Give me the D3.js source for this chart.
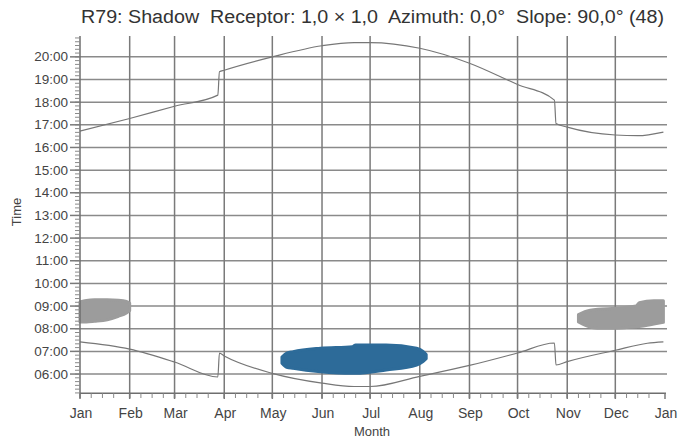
<!DOCTYPE html>
<html>
<head>
<meta charset="utf-8">
<script src="https://cdn.jsdelivr.net/npm/d3@7"></script>
<style>
  body { margin: 0; background: #fff; }
  svg text { font-family: "Liberation Sans", Arial, sans-serif; fill: #444; }
</style>
</head>
<body>
<svg id="chart"></svg>
<script>
const width = 678, height = 444

// month ticks
const monthLabels = ["Jan", "Feb", "Mar", "Apr", "May", "Jun", "Jul", "Aug", "Sep", "Oct", "Nov", "Dec", "Jan"]
const hourTicks = [6, 7, 8, 9, 10, 11, 12, 13, 14, 15, 16, 17, 18, 19, 20]

// sunset (upper line), hours
const sunsetDays = ["01-01", "02-01", "03-01", "03-28", "03-29", "04-01", "05-01", "06-01", "06-21", "07-01", "08-01", "09-01", "10-01", "10-24", "10-25", "11-01", "12-01", "12-15", "12-31"]
const sunsetHours = [16.72, 17.28, 17.82, 18.31, 19.34, 19.41, 20.0, 20.49, 20.63, 20.63, 20.38, 19.72, 18.78, 18.09, 17.06, 16.9, 16.55, 16.52, 16.68]

// sunrise (lower line), hours
const sunriseDays = ["01-01", "02-01", "03-01", "03-28", "03-29", "04-01", "05-01", "06-01", "06-21", "07-01", "08-01", "09-01", "10-01", "10-24", "10-25", "11-01", "12-01", "12-21", "12-31"]
const sunriseHours = [7.42, 7.1, 6.53, 5.87, 6.92, 6.8, 6.03, 5.6, 5.45, 5.45, 5.9, 6.38, 6.93, 7.37, 6.4, 6.55, 7.05, 7.36, 7.42]

// shadow periods: day, from-hour, to-hour
const shadeJanDays = ["01-01", "01-05", "01-10", "01-18", "01-25", "01-30", "02-01"]
const shadeJanFrom = [8.30, 8.30, 8.33, 8.40, 8.55, 8.70, 8.80]
const shadeJanTo   = [9.18, 9.25, 9.28, 9.28, 9.26, 9.20, 9.12]

const shadeSummerDays = ["05-07", "05-10", "05-14", "05-31", "06-20", "06-22", "07-11", "07-30", "08-03", "08-05"]
const shadeSummerFrom = [6.48, 6.30, 6.25, 6.10, 6.03, 6.03, 6.18, 6.40, 6.55, 6.68]
const shadeSummerTo   = [6.75, 6.92, 6.99, 7.14, 7.21, 7.28, 7.28, 7.14, 7.00, 6.86]

const shadeWinterDays = ["11-08", "11-12", "11-20", "12-01", "12-14", "12-16", "12-25", "12-31"]
const shadeWinterFrom = [8.30, 8.16, 8.02, 8.02, 8.09, 8.10, 8.21, 8.28]
const shadeWinterTo   = [8.62, 8.75, 8.86, 8.90, 9.00, 9.15, 9.24, 9.24]

const year = 2023
const parseDay = d => d3.timeParse("%Y-%m-%d")(year + "-" + d)

const svg = d3.select("#chart")
    .attr("width", width)
    .attr("height", height)

const x = d3.scaleTime()
    .domain([new Date(year, 0, 1), new Date(year + 1, 0, 1)])
    .range([80, 665])

const y = d3.scaleLinear()
    .domain([5.15, 20.92])
    .range([393.3, 36])

const months = d3.timeMonth.range(new Date(year, 0, 1), new Date(year + 1, 0, 2))

// horizontal grid
svg.append("g")
    .selectAll("line")
    .data(hourTicks)
    .enter()
    .append("line")
    .attr("x1", 80).attr("x2", 667)
    .attr("y1", d => y(d)).attr("y2", d => y(d))
    .style("stroke", "#8a8a8a")
    .style("stroke-width", 1.5)

// vertical grid
svg.append("g")
    .selectAll("line")
    .data(months.slice(1, 12))
    .enter()
    .append("line")
    .attr("x1", d => x(d)).attr("x2", d => x(d))
    .attr("y1", y(20.92)).attr("y2", 398)
    .style("stroke", "#7a7a7a")
    .style("stroke-width", 1.5)

// shadow areas
const drawShade = (days, from, to, color) => {
    const pts = days.map((d, i) => ({ t: parseDay(d), a: from[i], b: to[i] }))
    const area = d3.area()
        .x(d => x(d.t))
        .y0(d => y(d.a))
        .y1(d => y(d.b))
        .curve(d3.curveMonotoneX)
    svg.append("path")
        .datum(pts)
        .attr("d", area)
        .style("fill", color)
        .style("stroke", color)
        .style("stroke-width", 3)
        .style("stroke-linejoin", "round")
}
drawShade(shadeJanDays, shadeJanFrom, shadeJanTo, "#9c9c9c")
drawShade(shadeWinterDays, shadeWinterFrom, shadeWinterTo, "#9c9c9c")
drawShade(shadeSummerDays, shadeSummerFrom, shadeSummerTo, "#2d6b99")

// sun lines
const drawSun = (days, hours) => {
    const pts = days.map((d, i) => ({ t: parseDay(d), h: hours[i] }))
    svg.append("path")
        .datum(pts)
        .attr("d", d3.line().x(d => x(d.t)).y(d => y(d.h)).curve(d3.curveMonotoneX))
        .style("fill", "none")
        .style("stroke", "#777")
        .style("stroke-width", 1.2)
}
drawSun(sunsetDays, sunsetHours)
drawSun(sunriseDays, sunriseHours)

// y axis
const yAxis = svg.append("g")
yAxis.append("line")
    .attr("x1", 80).attr("x2", 80)
    .attr("y1", y(20.92)).attr("y2", 398)
    .style("stroke", "#6e6e6e").style("stroke-width", 1.5)
const minorY = d3.range(31, 126).map(i => i / 6)
yAxis.selectAll(".minor")
    .data(minorY)
    .enter()
    .append("line")
    .attr("x1", 75).attr("x2", 80)
    .attr("y1", d => y(d)).attr("y2", d => y(d))
    .style("stroke", "#8a8a8a")
yAxis.selectAll(".major")
    .data(hourTicks)
    .enter()
    .append("line")
    .attr("x1", 70).attr("x2", 80)
    .attr("y1", d => y(d)).attr("y2", d => y(d))
    .style("stroke", "#7a7a7a")
    .style("stroke-width", 1.5)
yAxis.selectAll("text")
    .data(hourTicks)
    .enter()
    .append("text")
    .attr("x", 68)
    .attr("y", d => y(d) + 4.5)
    .attr("text-anchor", "end")
    .style("font-size", "13.5px")
    .text(d => d3.format("02d")(d) + ":00")

// x axis
const xAxis = svg.append("g")
xAxis.append("line")
    .attr("x1", 80).attr("x2", 666)
    .attr("y1", 393.3).attr("y2", 393.3)
    .style("stroke", "#6e6e6e").style("stroke-width", 1.5)
const minorX = []
months.slice(0, 12).forEach(m => {
    [8, 15, 22].forEach(dd => minorX.push(new Date(m.getFullYear(), m.getMonth(), dd)))
})
xAxis.selectAll(".minor")
    .data(minorX)
    .enter()
    .append("line")
    .attr("x1", d => x(d)).attr("x2", d => x(d))
    .attr("y1", 393.3).attr("y2", 398)
    .style("stroke", "#8a8a8a")
xAxis.selectAll(".major")
    .data(months)
    .enter()
    .append("line")
    .attr("x1", d => x(d)).attr("x2", d => x(d))
    .attr("y1", 393.3).attr("y2", 399)
    .style("stroke", "#7a7a7a")
    .style("stroke-width", 1.5)
xAxis.selectAll("text")
    .data(months)
    .enter()
    .append("text")
    .attr("x", d => x(d) + 1)
    .attr("y", 418)
    .attr("text-anchor", "middle")
    .style("font-size", "14px")
    .text((d, i) => monthLabels[i])

// axis titles
svg.append("text")
    .attr("transform", "translate(21,212) rotate(-90)")
    .attr("text-anchor", "middle")
    .style("font-size", "13px")
    .text("Time")

svg.append("text")
    .attr("x", 372)
    .attr("y", 436)
    .attr("text-anchor", "middle")
    .style("font-size", "13px")
    .text("Month")

// title
svg.append("text")
    .attr("x", 81)
    .attr("y", 23)
    .attr("textLength", 583)
    .attr("lengthAdjust", "spacingAndGlyphs")
    .style("font-size", "18px")
    .style("white-space", "pre")
    .style("fill", "#333")
    .text("R79: Shadow  Receptor: 1,0 × 1,0  Azimuth: 0,0°  Slope: 90,0° (48)")
</script>
</body>
</html>
